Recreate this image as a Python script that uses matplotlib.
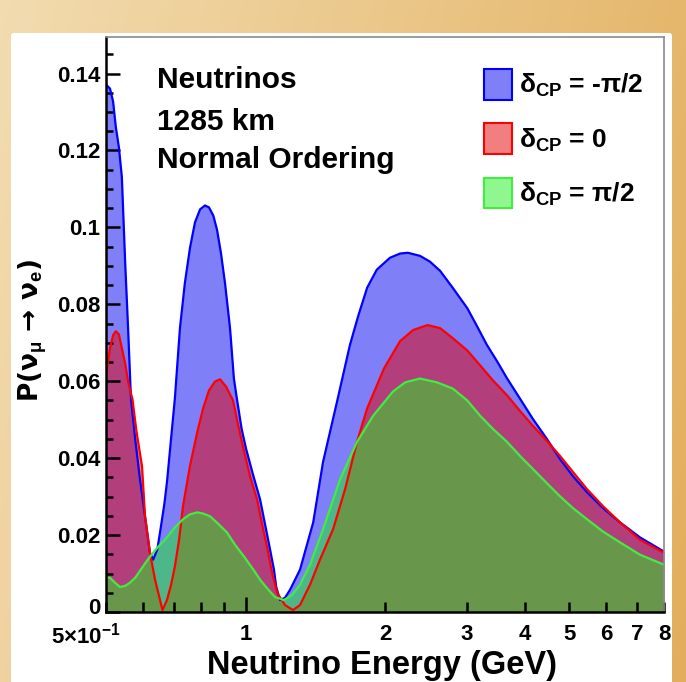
import numpy as np
import matplotlib
matplotlib.use("Agg")
import matplotlib.pyplot as plt
from matplotlib.patches import Patch, FancyBboxPatch
from matplotlib.ticker import FixedLocator, FixedFormatter, NullFormatter
import matplotlib.transforms as mtransforms

plt.rcParams['font.family'] = ['Liberation Sans', 'DejaVu Sans']
plt.rcParams['font.weight'] = 'bold'
plt.rcParams['mathtext.fontset'] = 'custom'
plt.rcParams['mathtext.rm'] = 'Liberation Sans:bold'
plt.rcParams['mathtext.it'] = 'Liberation Sans:bold'
plt.rcParams['mathtext.bf'] = 'Liberation Sans:bold'

# delta_CP = -pi/2
e_blue = [0.500, 0.510, 0.518, 0.525, 0.533, 0.541, 0.550, 0.558, 0.566, 0.578,
          0.592, 0.607, 0.622, 0.632, 0.645, 0.654, 0.668, 0.677, 0.693, 0.704,
          0.722, 0.740, 0.759, 0.778, 0.798, 0.818, 0.834, 0.852, 0.868, 0.885,
          0.903, 0.926, 0.944, 0.958, 0.981, 1.003, 1.037, 1.075, 1.102, 1.130,
          1.152, 1.165, 1.187, 1.217, 1.248, 1.311, 1.400, 1.47, 1.576, 1.68,
          1.75, 1.83, 1.92, 2.05, 2.155, 2.24, 2.38, 2.50, 2.63, 2.80,
          3.01, 3.16, 3.32, 3.49, 3.67, 3.91, 4.17, 4.47, 4.77, 5.09,
          5.46, 5.91, 6.43, 7.10, 8.00]
p_blue = [0.1371, 0.1361, 0.1327, 0.1261, 0.1209, 0.1131, 0.0908, 0.0738, 0.0555, 0.0450,
          0.0345, 0.0249, 0.0154, 0.0136, 0.0162, 0.0207, 0.0280, 0.0338, 0.0468, 0.0555,
          0.0738, 0.0856, 0.0947, 0.1013, 0.1047, 0.1057, 0.1052, 0.1031, 0.0994, 0.0934,
          0.0856, 0.0738, 0.0607, 0.0555, 0.0476, 0.0424, 0.0359, 0.0293, 0.0228, 0.0162,
          0.0110, 0.0065, 0.0031, 0.0037, 0.0058, 0.0110, 0.0233, 0.0390, 0.0547, 0.0694,
          0.0769, 0.0843, 0.0890, 0.0921, 0.0932, 0.0934, 0.0926, 0.0911, 0.0887, 0.0843,
          0.0790, 0.0743, 0.0694, 0.0652, 0.0607, 0.0555, 0.0502, 0.0450, 0.0398, 0.0353,
          0.0311, 0.0270, 0.0233, 0.0194, 0.0157]

# delta_CP = 0
e_red = [0.500, 0.510, 0.518, 0.525, 0.533, 0.541, 0.550, 0.558, 0.566, 0.570,
         0.582, 0.598, 0.607, 0.622, 0.638, 0.654, 0.662, 0.677, 0.691, 0.704,
         0.719, 0.733, 0.759, 0.787, 0.810, 0.834, 0.859, 0.881, 0.908, 0.940,
         0.963, 0.990, 1.023, 1.059, 1.086, 1.116, 1.141, 1.170, 1.217, 1.266,
         1.311, 1.378, 1.448, 1.545, 1.64, 1.74, 1.83, 1.99, 2.155, 2.30,
         2.47, 2.63, 2.80, 3.01, 3.21, 3.42, 3.67, 3.91, 4.17, 4.47,
         4.77, 5.09, 5.46, 5.91, 6.43, 7.10, 8.00]
p_red = [0.0615, 0.0686, 0.0720, 0.0730, 0.0722, 0.0686, 0.0646, 0.0599, 0.0568, 0.0555,
         0.0468, 0.0379, 0.0249, 0.0154, 0.0084, 0.0031, 0.0005, 0.0031, 0.0071, 0.0118,
         0.0188, 0.0275, 0.0380, 0.0468, 0.0529, 0.0576, 0.0599, 0.0605, 0.0586, 0.0550,
         0.0489, 0.0424, 0.0353, 0.0293, 0.0228, 0.0162, 0.0102, 0.0050, 0.0018, 0.0005,
         0.0018, 0.0071, 0.0136, 0.0215, 0.0319, 0.0442, 0.0529, 0.0633, 0.0704, 0.0733,
         0.0746, 0.0738, 0.0712, 0.0680, 0.0641, 0.0602, 0.0563, 0.0523, 0.0484, 0.0445,
         0.0406, 0.0364, 0.0319, 0.0275, 0.0233, 0.0188, 0.0154]

# delta_CP = pi/2
e_green = [0.500, 0.510, 0.523, 0.536, 0.550, 0.563, 0.578, 0.592, 0.607, 0.622,
           0.638, 0.654, 0.677, 0.704, 0.733, 0.759, 0.787, 0.810, 0.838, 0.872,
           0.912, 0.949, 0.993, 1.04, 1.075, 1.12, 1.158, 1.21, 1.26, 1.311,
           1.378, 1.47, 1.60, 1.74, 1.885, 2.08, 2.21, 2.38, 2.59, 2.80,
           3.01, 3.21, 3.42, 3.67, 3.91, 4.17, 4.47, 4.77, 5.09, 5.46,
           5.91, 6.43, 7.10, 8.00]
p_green = [0.0089, 0.0089, 0.0076, 0.0065, 0.0068, 0.0076, 0.0089, 0.0107, 0.0126, 0.0144,
           0.0160, 0.0175, 0.0194, 0.0220, 0.0241, 0.0254, 0.0259, 0.0256, 0.0249, 0.0230,
           0.0207, 0.0175, 0.0144, 0.0110, 0.0084, 0.0058, 0.0039, 0.0031, 0.0044, 0.0071,
           0.0123, 0.0215, 0.0345, 0.0442, 0.0510, 0.0573, 0.0597, 0.0607, 0.0597, 0.0581,
           0.0550, 0.0510, 0.0476, 0.0442, 0.0406, 0.0372, 0.0335, 0.0301, 0.0270, 0.0241,
           0.0209, 0.0181, 0.0149, 0.0123]

# (energies, probabilities, fill colour, line colour, legend text)
series = [
    (e_blue, p_blue, (0, 0, 0.94), (0, 0, 1), r'δ$_{\mathrm{CP}}$ = -π/2'),
    (e_red, p_red, (0.9, 0, 0), (1, 0, 0), r'δ$_{\mathrm{CP}}$ = 0'),
    (e_green, p_green, (0.12, 0.94, 0.12), (0.25, 0.93, 0.25), r'δ$_{\mathrm{CP}}$ = π/2'),
]

fig = plt.figure(figsize=(6.86, 6.82), dpi=100)

# orange gradient backdrop and white panel
bg = fig.add_axes([0, 0, 1, 1], zorder=-10)
gx, gy = np.meshgrid(np.linspace(0, 1, 300), np.linspace(0, 1, 300))
t = np.clip(0.8 * gx + 0.2 * gy, 0, 1)[..., None]
c0 = np.array([242, 220, 176]) / 255
c1 = np.array([226, 174, 92]) / 255
bg.imshow(c0 + (c1 - c0) * t, extent=[0, 1, 0, 1], aspect='auto', origin='upper')
bg.add_patch(FancyBboxPatch((11 / 686, -0.05), 661 / 686, 0.05 + 649 / 682,
                            boxstyle='round,pad=0,rounding_size=0.004',
                            transform=bg.transAxes, facecolor='white',
                            edgecolor='none'))
bg.set_xlim(0, 1)
bg.set_ylim(0, 1)
bg.axis('off')

ax = fig.add_axes([106 / 686, 70 / 682, 558 / 686, 575 / 682])
ax.set_facecolor('white')

handles = []
for e, p, fcol, lcol, lab in series:
    ax.fill_between(e, p, 0, color=fcol, alpha=0.5, lw=0)
    ax.plot(e, p, color=lcol, lw=1.6)
    handles.append(Patch(facecolor=fcol + (0.5,), edgecolor=lcol, lw=1.5, label=lab))

ax.set_xscale('log')
ax.set_xlim(0.5, 8)
ax.set_ylim(0, 0.1495)

ax.xaxis.set_major_locator(FixedLocator([1]))
ax.xaxis.set_major_formatter(FixedFormatter(['1']))
ax.xaxis.set_minor_locator(FixedLocator([0.5, 0.6, 0.7, 0.8, 0.9, 2, 3, 4, 5, 6, 7, 8]))
ax.xaxis.set_minor_formatter(FixedFormatter(['5×10$^{-1}$', '', '', '', '', '2', '3', '4', '5', '6', '7', '8']))

yt = [0, 0.02, 0.04, 0.06, 0.08, 0.1, 0.12, 0.14]
ax.yaxis.set_major_locator(FixedLocator(yt))
ax.yaxis.set_major_formatter(FixedFormatter(['0', '0.02', '0.04', '0.06', '0.08', '0.1', '0.12', '0.14']))
ax.yaxis.set_minor_locator(FixedLocator(np.arange(0.005, 0.149, 0.005)))
ax.yaxis.set_minor_formatter(NullFormatter())

ax.tick_params(axis='both', which='both', direction='in', top=False, right=False,
               width=1.8, labelsize=16, pad=4)
ax.tick_params(axis='y', which='major', length=10)
ax.tick_params(axis='y', which='minor', length=5)
ax.tick_params(axis='x', which='major', length=11, pad=9)
ax.tick_params(axis='x', which='minor', length=7, pad=9)

fig.canvas.draw()
# ROOT puts the 5x10^-1 label to the left of its tick and the 0 label a bit higher
lbl = ax.xaxis.get_minor_ticks()[0].label1
lbl.set_horizontalalignment('right')
lbl.set_transform(lbl.get_transform() + mtransforms.ScaledTranslation(15 / 100, 2 / 100, fig.dpi_scale_trans))
zl = ax.yaxis.get_major_ticks()[0].label1
zl.set_transform(zl.get_transform() + mtransforms.ScaledTranslation(0, 6 / 100, fig.dpi_scale_trans))

for s in ['left', 'bottom']:
    ax.spines[s].set_linewidth(1.8)
    ax.spines[s].set_color('black')
for s in ['top', 'right']:
    ax.spines[s].set_linewidth(1.2)
    ax.spines[s].set_color('#8a8a8a')

ax.set_xlabel('Neutrino Energy (GeV)', fontsize=23.5, fontweight='bold')
ax.xaxis.set_label_coords(0.495, -0.066)
ax.set_ylabel(r'P(ν$_{\mu}$ → ν$_{e}$)', fontsize=19, fontweight='bold',
              fontfamily=['DejaVu Sans'])
ax.yaxis.set_label_coords(-0.102, 0.489)

for yy, txt in [(0.911, 'Neutrinos'), (0.838, '1285 km'), (0.772, 'Normal Ordering')]:
    ax.text(0.091, yy, txt, transform=ax.transAxes, fontsize=21.5, fontweight='bold', va='baseline')

ax.legend(handles=handles, loc='upper left', bbox_to_anchor=(0.678, 0.944), frameon=False,
          fontsize=19, handlelength=1.05, handleheight=1.4, handletextpad=0.25,
          labelspacing=0.9, borderaxespad=0, borderpad=0)

fig.savefig('out.png', dpi=100)
